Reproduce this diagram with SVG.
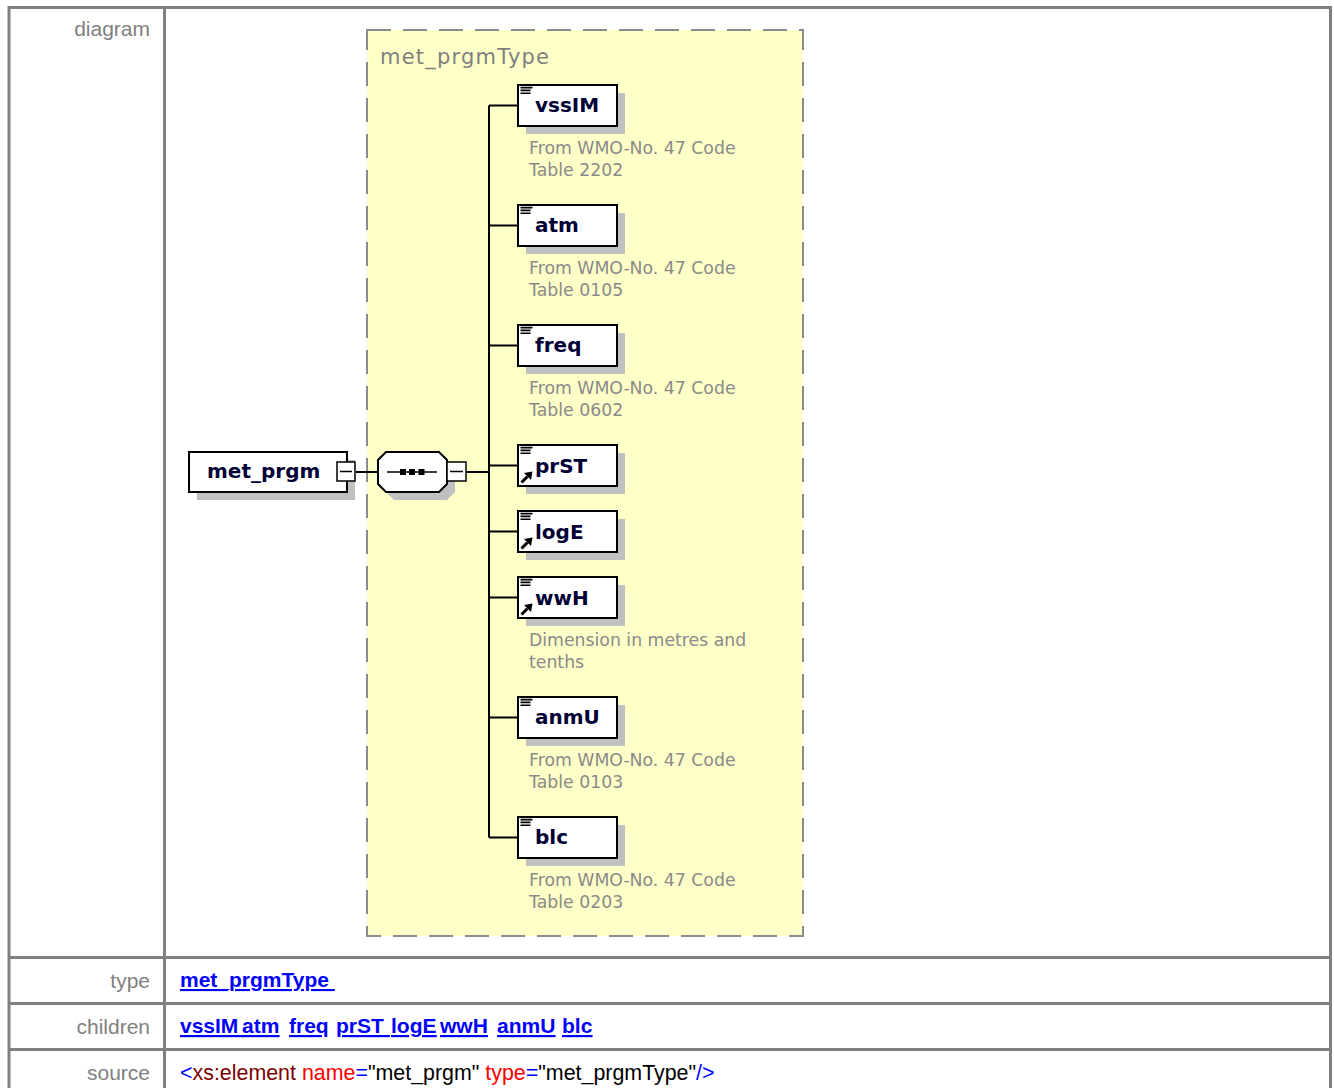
<svg xmlns="http://www.w3.org/2000/svg" xmlns:xlink="http://www.w3.org/1999/xlink" width="1334" height="1088" viewBox="0 0 1334 1088">
<style>
.grid{stroke:#808080;stroke-width:3;fill:none}
.lbl{font-family:"Liberation Sans",Arial,sans-serif;font-size:21px;fill:#808080;text-anchor:end}
.lnk{font-family:"Liberation Sans",Arial,sans-serif;font-size:21px;font-weight:bold;fill:#0000ff;text-decoration:underline;white-space:pre}
.src{font-family:"Liberation Sans",Arial,sans-serif;font-size:21.4px;white-space:pre}
.ctype{fill:#ffffc8;stroke:#8c8c8c;stroke-width:2;stroke-dasharray:24 12}
.ctlbl{font-family:"DejaVu Sans",Verdana,sans-serif;font-size:21px;fill:#808080}
.shadow{fill:#c0c0c0}
.box{fill:#ffffff;stroke:#000000;stroke-width:2}
.ename{font-family:"DejaVu Sans",Verdana,sans-serif;font-size:20px;font-weight:bold;fill:#000035}
.ann{font-family:"DejaVu Sans",Verdana,sans-serif;font-size:17.3px;fill:#8a8a8a}
.conn{stroke:#000000;stroke-width:2;fill:none}
.minus{fill:#ffffff;stroke:#000000;stroke-width:1.5}
</style>
<defs>
<g id="lines"><path d="M2.5 2.6h12M2.5 5.4h10M2.5 8.2h10" stroke="#000" stroke-width="1.6" fill="none"/></g>
<g id="refarrow"><path d="M3.5 37.5L9.5 31.5" stroke="#000" stroke-width="3" fill="none"/><polygon points="14.5,26.5 6,28 13,35" fill="#000"/></g>
</defs>
<rect x="0" y="0" width="1334" height="1088" fill="#ffffff"/>
<!-- table grid -->
<path class="grid" d="M9 1090V7.5H1330.5V1090M164.5 7.5V1090M9 957.5H1330.5M9 1003.5H1330.5M9 1049.5H1330.5"/>
<text class="lbl" x="150" y="36">diagram</text>
<text class="lbl" x="150" y="988">type</text>
<text class="lbl" x="150" y="1034">children</text>
<text class="lbl" x="150" y="1080">source</text>
<text class="lnk" x="180" y="987">met_prgmType </text>
<g class="lnk">
<text class="lnk" x="180" y="1033">vssIM </text>
<text class="lnk" x="242" y="1033">atm</text>
<text class="lnk" x="289" y="1033">freq</text>
<text class="lnk" x="336" y="1033">prST </text>
<text class="lnk" x="391" y="1033">logE</text>
<text class="lnk" x="440" y="1033">wwH</text>
<text class="lnk" x="497" y="1033">anmU</text>
<text class="lnk" x="562" y="1033">blc</text>
</g>
<text class="src" x="180" y="1080"><tspan fill="#0000ff">&lt;</tspan><tspan fill="#800000">xs:element</tspan><tspan fill="#ff0000"> name</tspan><tspan fill="#0000ff">=</tspan><tspan fill="#000000">"met_prgm"</tspan><tspan fill="#ff0000"> type</tspan><tspan fill="#0000ff">=</tspan><tspan fill="#000000">"met_prgmType"</tspan><tspan fill="#0000ff">/&gt;</tspan></text>

<!-- complex type container -->
<g id="met_prgmType">
<rect class="ctype" x="367" y="30" width="436" height="906"/>
<text class="ctlbl" x="380" y="64" textLength="169" lengthAdjust="spacing">met_prgmType</text>
</g>

<!-- connectors -->
<g id="connectors">
<path class="conn" d="M356 472H378M466 472H489M489 105.5V837.5"/>
<path class="conn" d="M489 105.5H518M489 225.5H518M489 345.5H518M489 465.5H518M489 531.5H518M489 597.5H518M489 717.5H518M489 837.5H518"/>
</g>

<!-- root element -->
<g id="met_prgm">
<rect class="shadow" x="197" y="460" width="158" height="40"/>
<rect class="box" x="189" y="452" width="158" height="40"/>
<text class="ename" x="207" y="478">met_prgm</text>
<rect class="minus" x="337" y="462" width="18" height="19"/>
<path d="M340 471.5H352" stroke="#000" stroke-width="1.5"/>
</g>

<!-- sequence -->
<g id="sequence">
<path class="shadow" d="M394 460H447L455 468V492L447 500H394L386 492V468Z"/>
<path class="box" d="M386 452H439L447 460V484L439 492H386L378 484V460Z"/>
<path d="M387 472H437" stroke="#000" stroke-width="1.5"/>
<rect x="400" y="469" width="6" height="6" fill="#000"/>
<rect x="409" y="469" width="6" height="6" fill="#000"/>
<rect x="418.5" y="469" width="6" height="6" fill="#000"/>
<rect class="minus" x="447" y="462" width="19" height="19"/>
<path d="M450 471.5H463" stroke="#000" stroke-width="1.5"/>
</g>

<g id="vssIM">
<rect class="shadow" x="526" y="93" width="99" height="41"/>
<rect class="box" x="518" y="85" width="99" height="41"/>
<use xlink:href="#lines" x="518" y="85"/>
<text class="ename" x="535" y="112">vssIM</text>
<text class="ann" x="529" y="154">From WMO-No. 47 Code</text>
<text class="ann" x="529" y="176">Table 2202</text>
</g>

<g id="atm">
<rect class="shadow" x="526" y="213" width="99" height="41"/>
<rect class="box" x="518" y="205" width="99" height="41"/>
<use xlink:href="#lines" x="518" y="205"/>
<text class="ename" x="535" y="232">atm</text>
<text class="ann" x="529" y="274">From WMO-No. 47 Code</text>
<text class="ann" x="529" y="296">Table 0105</text>
</g>

<g id="freq">
<rect class="shadow" x="526" y="333" width="99" height="41"/>
<rect class="box" x="518" y="325" width="99" height="41"/>
<use xlink:href="#lines" x="518" y="325"/>
<text class="ename" x="535" y="352">freq</text>
<text class="ann" x="529" y="394">From WMO-No. 47 Code</text>
<text class="ann" x="529" y="416">Table 0602</text>
</g>

<g id="prST">
<rect class="shadow" x="526" y="453" width="99" height="41"/>
<rect class="box" x="518" y="445" width="99" height="41"/>
<use xlink:href="#lines" x="518" y="445"/>
<use xlink:href="#refarrow" x="518" y="445"/>
<text class="ename" x="535" y="473">prST</text>
</g>

<g id="logE">
<rect class="shadow" x="526" y="519" width="99" height="41"/>
<rect class="box" x="518" y="511" width="99" height="41"/>
<use xlink:href="#lines" x="518" y="511"/>
<use xlink:href="#refarrow" x="518" y="511"/>
<text class="ename" x="535" y="539">logE</text>
</g>

<g id="wwH">
<rect class="shadow" x="526" y="585" width="99" height="41"/>
<rect class="box" x="518" y="577" width="99" height="41"/>
<use xlink:href="#lines" x="518" y="577"/>
<use xlink:href="#refarrow" x="518" y="577"/>
<text class="ename" x="535" y="605">wwH</text>
<text class="ann" x="529" y="646">Dimension in metres and</text>
<text class="ann" x="529" y="668">tenths</text>
</g>

<g id="anmU">
<rect class="shadow" x="526" y="705" width="99" height="41"/>
<rect class="box" x="518" y="697" width="99" height="41"/>
<use xlink:href="#lines" x="518" y="697"/>
<text class="ename" x="535" y="724">anmU</text>
<text class="ann" x="529" y="766">From WMO-No. 47 Code</text>
<text class="ann" x="529" y="788">Table 0103</text>
</g>

<g id="blc">
<rect class="shadow" x="526" y="825" width="99" height="41"/>
<rect class="box" x="518" y="817" width="99" height="41"/>
<use xlink:href="#lines" x="518" y="817"/>
<text class="ename" x="535" y="844">blc</text>
<text class="ann" x="529" y="886">From WMO-No. 47 Code</text>
<text class="ann" x="529" y="908">Table 0203</text>
</g>
</svg>
